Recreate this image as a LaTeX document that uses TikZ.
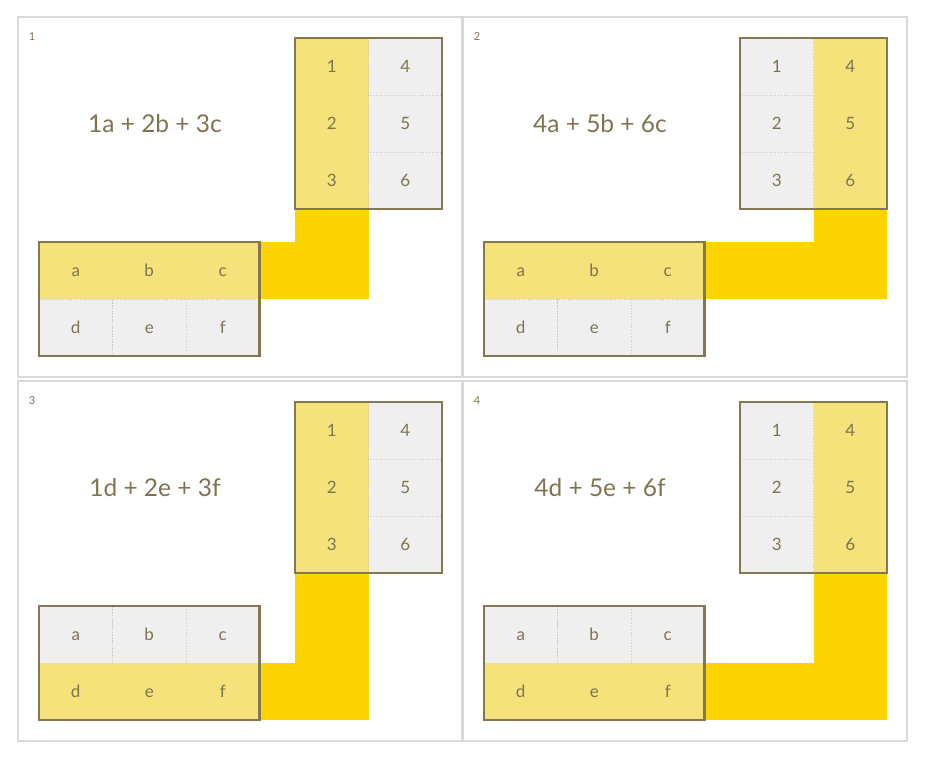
\documentclass[tikz,border=0pt]{standalone}
\usepackage{fontspec}
\setmainfont{Lato}
\usepackage{tikz}
\usetikzlibrary{positioning}

\definecolor{ink}{HTML}{7F7350}
\definecolor{framebrown}{HTML}{857752}
\definecolor{cellgray}{HTML}{EFEFEF}
\definecolor{dotgray}{HTML}{C8C8C8}
\definecolor{softyellow}{HTML}{F6E27A}
\definecolor{gold}{HTML}{FCD400}
\definecolor{panelgray}{HTML}{D9D9D9}

\begin{document}
\begin{tikzpicture}[
    x=1pt, y=-1pt,
    node distance=0pt,
    cell/.style={rectangle, draw=dotgray, dotted, line width=0.8pt, fill=cellgray, minimum width=73.5pt, minimum height=57pt, inner sep=0pt, outer sep=0pt, text height=12pt, text depth=0pt, text=ink, font=\fontsize{17}{20}\selectfont},
    hicell/.style={cell, draw=none, fill=softyellow},
    frame/.style={draw=framebrown, line width=2.5pt},
    panelbox/.style={draw=panelgray, line width=2pt},
    exprnode/.style={text=ink, font=\fontsize{24.5}{28}\selectfont},
    numnode/.style={text=ink, font=\fontsize{11}{13}\selectfont}
]
\useasboundingbox (0,0) rectangle (926,757);

\foreach \p/\ox/\oy/\ca/\cb/\ra/\rb/\tend/\bend/\expr in {
    1/0/0/hicell/cell/hicell/cell/t3/bc/{1a + 2b + 3c},
    2/445/0/cell/hicell/hicell/cell/t6/bc/{4a + 5b + 6c},
    3/0/364/hicell/cell/cell/hicell/t3/bf/{1d + 2e + 3f},
    4/445/364/cell/hicell/cell/hicell/t6/bf/{4d + 5e + 6f}} {
  % Panel
  \draw[panelbox] (\ox+18, \oy+17) rectangle (\ox+462, \oy+377);
  \node[numnode] (num\p) at (\ox+32, \oy+37) {\p};
  \node[exprnode] (expr\p) at (\ox+155, \oy+124) {\expr};

  % Top matrix
  \node[\ca] (t1p\p) at (\ox+331.75, \oy+66.5) {1};
  \node[\ca, below=of t1p\p] (t2p\p) {2};
  \node[\ca, below=of t2p\p] (t3p\p) {3};
  \node[\cb, right=of t1p\p] (t4p\p) {4};
  \node[\cb, below=of t4p\p] (t5p\p) {5};
  \node[\cb, below=of t5p\p] (t6p\p) {6};

  % Bottom matrix
  \node[\ra] (bap\p) at (\ox+75.75, \oy+270.5) {a};
  \node[\ra, right=of bap\p] (bbp\p) {b};
  \node[\ra, right=of bbp\p] (bcp\p) {c};
  \node[\rb, below=of bap\p] (bdp\p) {d};
  \node[\rb, right=of bdp\p] (bep\p) {e};
  \node[\rb, right=of bep\p] (bfp\p) {f};

  % Connecting bars
  \fill[gold] (\tend p\p.south west) rectangle (\tend p\p.south east |- \bend p\p.south east);
  \fill[gold] (\bend p\p.north east) rectangle (\tend p\p.south east |- \bend p\p.south east);

  % Outlines
  \draw[frame] (t1p\p.north west) rectangle (t6p\p.south east);
  \draw[frame] (bap\p.north west) rectangle (bfp\p.south east);
}
\end{tikzpicture}
\end{document}
